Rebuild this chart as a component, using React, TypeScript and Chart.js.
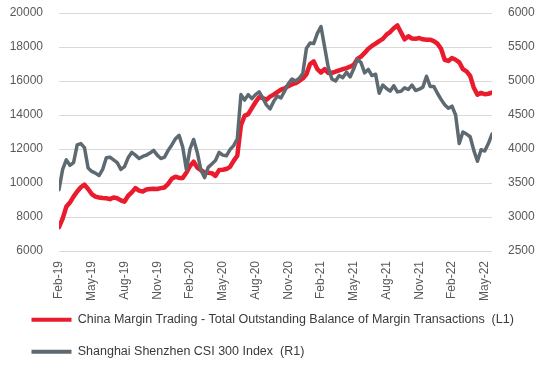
import React, { useEffect, useRef } from "react";
import { Chart, registerables } from "chart.js";

Chart.register(...registerables);

// x tick labels, every 3 months starting Feb-19
const xTickLabels = [
  "Feb-19", "May-19", "Aug-19", "Nov-19", "Feb-20", "May-20", "Aug-20",
  "Nov-20", "Feb-21", "May-21", "Aug-21", "Nov-21", "Feb-22", "May-22",
];

// samples taken every ~1/3 month starting Feb 2019
const samplesPerMonth = 3;

// China margin balance (left axis)
const marginBalance = [
  7400, 7900, 8600, 8850, 9200, 9500, 9750, 9900, 9650, 9350,
  9200, 9150, 9120, 9100, 9050, 9150, 9100, 8980, 8900, 9250,
  9450, 9700, 9550, 9500, 9620, 9650, 9660, 9650, 9700, 9740,
  9950, 10250, 10370, 10300, 10300, 10600, 11000, 11250, 10900, 10750,
  10620, 10600, 10580, 10420, 10760, 10780, 10820, 10950, 11300, 11600,
  13400, 13950, 14050, 14400, 14750, 15050, 15000, 14900, 15080, 15200,
  15350, 15490, 15560, 15700, 15800, 15870, 16000, 16150, 16400, 17000,
  17150, 16700, 16500, 16700, 16470, 16480, 16550, 16630, 16700, 16760,
  16840, 16950, 17300, 17440, 17650, 17900, 18060, 18200, 18350, 18480,
  18730, 18880, 19100, 19270, 18850, 18450, 18630, 18500, 18480, 18530,
  18450, 18430, 18430, 18350, 18200, 17900, 17250, 17180, 17350, 17250,
  17100, 16700, 16570, 16300, 15600, 15200, 15300, 15220, 15250, 15320,
];

// CSI 300 index (right axis)
const csi300 = [
  3400, 3700, 3840, 3760, 3800, 4060, 4080, 4020, 3720, 3670,
  3645, 3610, 3700, 3870, 3880, 3840, 3800, 3700, 3740, 3870,
  3950, 3910, 3860, 3890, 3910, 3940, 3980, 3910, 3860, 3880,
  3980, 4060, 4150, 4200, 4030, 3700, 4000, 4140, 3950, 3690,
  3580, 3730, 3780, 3830, 3950, 3910, 3900, 3990, 4050, 4150,
  4800, 4720, 4800, 4740, 4800, 4840, 4750, 4650, 4590, 4700,
  4780, 4750, 4850, 4960, 5030, 5000, 5040, 5110, 5480, 5560,
  5550, 5700, 5800, 5500, 5200, 5030, 5000, 5080, 5050, 5130,
  5060, 5180, 5320, 5270, 5120, 5170, 5080, 5100, 4820, 4940,
  4890, 4850, 4930, 4840, 4850, 4900, 4875, 4940, 4860, 4880,
  4910, 5070, 4920, 4920, 4820, 4730, 4650, 4600, 4630, 4500,
  4080, 4250, 4220, 4180, 3980, 3820, 3990, 3970, 4080, 4220,
];

const RED = "#EA1B2D";
const GRAY = "#5E6A71";
const TICK_FONT = { family: "'Liberation Sans', Arial, sans-serif", size: 12 };

const legendShift = {
  id: "legendShift",
  afterLayout(chart: any) {
    if (chart.legend) {
      chart.legend.left += 12;
      chart.legend.top -= 8;
      chart.legend.bottom -= 8;
    }
  },
};

const noVPad = (s: any) => {
  s.paddingTop = 0;
  s.paddingBottom = 0;
};

export default function App() {
  const ref = useRef<HTMLCanvasElement>(null);

  useEffect(() => {
    document.body.style.margin = "0";
    const toPts = (arr: number[]) =>
      arr.map((v, i) => ({ x: i / samplesPerMonth, y: v }));
    const xMax = (marginBalance.length - 1) / samplesPerMonth;

    const chart = new Chart(ref.current!, {
      type: "line",
      plugins: [legendShift],
      data: {
        datasets: [
          {
            label:
              "China Margin Trading - Total Outstanding Balance of Margin Transactions  (L1)",
            data: toPts(marginBalance),
            yAxisID: "yL",
            borderColor: RED,
            backgroundColor: RED,
            borderWidth: 4.5,
            pointRadius: 0,
            tension: 0,
            borderJoinStyle: "round",
            borderCapStyle: "round",
            order: 1,
          },
          {
            label: "Shanghai Shenzhen CSI 300 Index  (R1)",
            data: toPts(csi300),
            yAxisID: "yR",
            borderColor: GRAY,
            backgroundColor: GRAY,
            borderWidth: 3.5,
            pointRadius: 0,
            tension: 0,
            borderJoinStyle: "round",
            borderCapStyle: "round",
            order: 0,
          },
        ],
      },
      options: {
        responsive: false,
        animation: false,
        devicePixelRatio: 1,
        layout: { padding: { left: 0, right: 11, top: 13, bottom: -4 } },
        plugins: {
          tooltip: { enabled: false },
          legend: {
            display: true,
            position: "bottom",
            align: "start",
            labels: {
              boxWidth: 40,
              boxHeight: 4,
              padding: 19.5,
              color: "#3A3A3A",
              font: { family: "'Liberation Sans', Arial, sans-serif", size: 12.5 },
              sort: (a: any, b: any) => a.datasetIndex - b.datasetIndex,
              generateLabels: (c: any) =>
                Chart.defaults.plugins.legend.labels
                  .generateLabels(c)
                  .map((it: any) => ({ ...it, lineWidth: 0 })),
            },
          },
        },
        scales: {
          x: {
            type: "linear",
            min: 0,
            max: xMax,
            grid: { display: false, drawTicks: false },
            border: { display: false },
            ticks: {
              stepSize: 3,
              autoSkip: false,
              includeBounds: false,
              maxRotation: 90,
              minRotation: 90,
              padding: 10,
              color: "#595959",
              font: TICK_FONT,
              callback: (v: any) => {
                const k = Number(v) / 3;
                return Number.isInteger(k) && xTickLabels[k] ? xTickLabels[k] : "";
              },
            },
            afterFit: (s: any) => {
              s.height = 51;
            },
          },
          yL: {
            type: "linear",
            position: "left",
            min: 6000,
            max: 20000,
            grid: { color: "#D9D9D9", lineWidth: 1, drawTicks: false },
            border: { display: false },
            ticks: {
              stepSize: 2000,
              padding: 16,
              color: "#595959",
              font: TICK_FONT,
              callback: (v: any) => String(v),
            },
            afterFit: (s: any) => {
              s.width = 59;
              noVPad(s);
            },
          },
          yR: {
            type: "linear",
            position: "right",
            min: 2500,
            max: 6000,
            grid: { display: false, drawTicks: false },
            border: { display: false },
            ticks: {
              stepSize: 500,
              padding: 16,
              color: "#595959",
              font: TICK_FONT,
              callback: (v: any) => String(v),
            },
            afterFit: (s: any) => {
              s.width = 45;
              noVPad(s);
            },
          },
        },
      },
    });
    return () => chart.destroy();
  }, []);

  return (
    <div style={{ position: "fixed", left: 0, top: 0, width: 548, height: 372 }}>
      <canvas ref={ref} width={548} height={372} />
    </div>
  );
}
